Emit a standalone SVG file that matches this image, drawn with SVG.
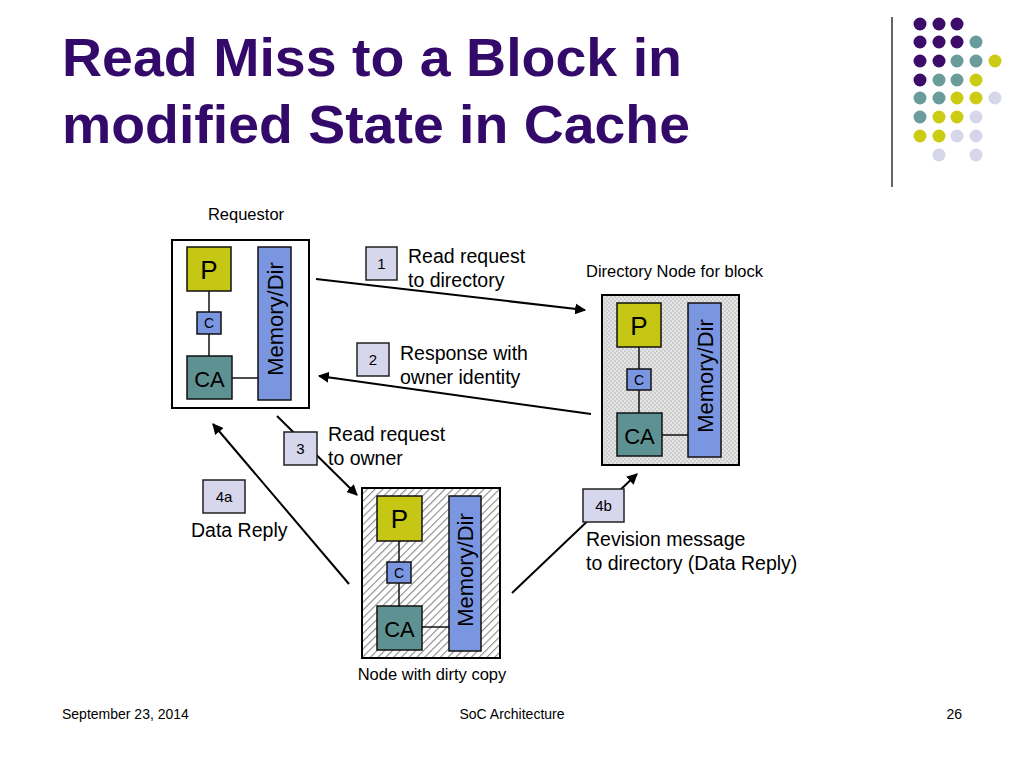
<svg xmlns="http://www.w3.org/2000/svg" width="1024" height="768" viewBox="0 0 1024 768">
<defs>
<style>
text{font-family:"Liberation Sans",Arial,sans-serif;fill:#000}
.title{font-size:53px;font-weight:bold;fill:#330a6a}
.lbl{font-size:19.5px}
.small{font-size:16.5px}
.foot{font-size:14px}
.num{font-size:15px;text-anchor:middle}
.frame{stroke:#000;stroke-width:2}
.p{fill:#c6c614;stroke:#111;stroke-width:1.5}
.c{fill:#7b96e0;stroke:#111;stroke-width:1.5}
.ca{fill:#5e9292;stroke:#111;stroke-width:1.5}
.mem{fill:#7b96e0;stroke:#111;stroke-width:1.5}
.link{stroke:#111;stroke-width:1.5}
.stepbox{fill:#d6d6ec;stroke:#222;stroke-width:1.5}
.arrow{stroke:#000;stroke-width:2;fill:none;marker-end:url(#ah)}
.big{font-size:26px;text-anchor:middle}
.ctext{font-size:14px;text-anchor:middle}
.memtext{font-size:22px;text-anchor:middle}
</style>
<marker id="ah" viewBox="0 0 10 10" refX="9" refY="5" markerWidth="5.5" markerHeight="5.5" orient="auto" markerUnits="strokeWidth">
<path d="M0,0 L10,5 L0,10 z" fill="#000"/>
</marker>
<pattern id="dots" width="4" height="4" patternUnits="userSpaceOnUse">
<rect width="4" height="4" fill="#cdcdcd"/>
<circle cx="1" cy="1" r="0.9" fill="#f2f2f2"/>
<circle cx="3" cy="3" r="0.9" fill="#f2f2f2"/>
</pattern>
<pattern id="hatch" width="5.5" height="5.5" patternUnits="userSpaceOnUse" patternTransform="rotate(45)">
<rect width="5.5" height="5.5" fill="#fff"/>
<line x1="0" y1="0" x2="0" y2="5.5" stroke="#8a8a8a" stroke-width="2.2"/>
</pattern>
</defs>
<rect width="1024" height="768" fill="#fff"/>

<g id="title">
<text class="title" x="62" y="76" textLength="620" lengthAdjust="spacingAndGlyphs">Read Miss to a Block in</text>
<text class="title" x="62" y="143" textLength="628" lengthAdjust="spacingAndGlyphs">modified State in Cache</text>
</g>

<g id="decoration">
<line x1="892" y1="17" x2="892" y2="187" stroke="#333" stroke-width="1.5"/>
<g fill="#3d0c6b">
<circle cx="920" cy="24" r="6.5"/><circle cx="939" cy="24" r="6.5"/><circle cx="957" cy="24" r="6.5"/>
<circle cx="920" cy="42" r="6.5"/><circle cx="939" cy="42" r="6.5"/><circle cx="957" cy="42" r="6.5"/>
<circle cx="920" cy="61" r="6.5"/><circle cx="939" cy="61" r="6.5"/>
<circle cx="920" cy="80" r="6.5"/>
</g>
<g fill="#6a9c9c">
<circle cx="976" cy="42" r="6.5"/>
<circle cx="957" cy="61" r="6.5"/><circle cx="976" cy="61" r="6.5"/>
<circle cx="939" cy="80" r="6.5"/><circle cx="957" cy="80" r="6.5"/>
<circle cx="920" cy="98" r="6.5"/><circle cx="939" cy="98" r="6.5"/>
<circle cx="920" cy="117" r="6.5"/>
</g>
<g fill="#cccc14">
<circle cx="995" cy="61" r="6.5"/>
<circle cx="976" cy="80" r="6.5"/>
<circle cx="957" cy="98" r="6.5"/><circle cx="976" cy="98" r="6.5"/>
<circle cx="939" cy="117" r="6.5"/><circle cx="957" cy="117" r="6.5"/>
<circle cx="920" cy="136" r="6.5"/><circle cx="939" cy="136" r="6.5"/>
</g>
<g fill="#d6d6ea">
<circle cx="995" cy="98" r="6.5"/>
<circle cx="976" cy="117" r="6.5"/>
<circle cx="957" cy="136" r="6.5"/><circle cx="976" cy="136" r="6.5"/>
<circle cx="939" cy="155" r="6.5"/><circle cx="976" cy="155" r="6.5"/>
</g>
</g>

<g id="requestor">
<text class="small" x="246" y="220" text-anchor="middle">Requestor</text>
<rect class="frame" x="172" y="240" width="137" height="168" fill="#fff"/>
<line class="link" x1="209" y1="291" x2="209" y2="356"/>
<line class="link" x1="232" y1="378" x2="258" y2="378"/>
<rect class="p" x="187" y="247" width="44" height="44"/>
<text class="big" x="209" y="279">P</text>
<rect class="c" x="197" y="312" width="24" height="22"/>
<text class="ctext" x="209" y="328">C</text>
<rect class="ca" x="187" y="356" width="45" height="43"/>
<text class="big" x="209.5" y="387" style="font-size:22px">CA</text>
<rect class="mem" x="258" y="247" width="33" height="153"/>
<text class="memtext" transform="translate(282.5,319) rotate(-90)">Memory/Dir</text>
</g>

<g id="directory">
<text class="small" x="586" y="277">Directory Node for block</text>
<rect class="frame" x="602" y="295" width="137" height="170" fill="url(#dots)"/>
<line class="link" x1="639" y1="347" x2="639" y2="413"/>
<line class="link" x1="662" y1="435" x2="688" y2="435"/>
<rect class="p" x="617" y="303" width="44" height="44"/>
<text class="big" x="639" y="335">P</text>
<rect class="c" x="627" y="369" width="24" height="21"/>
<text class="ctext" x="639" y="384.5">C</text>
<rect class="ca" x="617" y="413" width="45" height="43"/>
<text class="big" x="639.5" y="444" style="font-size:22px">CA</text>
<rect class="mem" x="688" y="303" width="33" height="154"/>
<text class="memtext" transform="translate(712.5,376) rotate(-90)">Memory/Dir</text>
</g>

<g id="dirty">
<rect class="frame" x="362" y="488" width="138" height="170" fill="url(#hatch)"/>
<line class="link" x1="399" y1="541" x2="399" y2="606"/>
<line class="link" x1="422" y1="627" x2="449" y2="627"/>
<rect class="p" x="377" y="496" width="45" height="45"/>
<text class="big" x="399.5" y="528">P</text>
<rect class="c" x="387" y="562" width="24" height="21"/>
<text class="ctext" x="399" y="577.5">C</text>
<rect class="ca" x="377" y="606" width="45" height="44"/>
<text class="big" x="399.5" y="637" style="font-size:22px">CA</text>
<rect class="mem" x="449" y="496" width="32" height="155"/>
<text class="memtext" transform="translate(473,570) rotate(-90)">Memory/Dir</text>
<text class="small" x="432" y="680" text-anchor="middle">Node with dirty copy</text>
</g>

<g id="connectors">
<line class="arrow" x1="316" y1="279" x2="585" y2="310"/>
<line class="arrow" x1="591" y1="414" x2="319" y2="376"/>
<line class="arrow" x1="277" y1="416" x2="357" y2="495"/>
<line class="arrow" x1="349" y1="584" x2="213" y2="424"/>
<line class="arrow" x1="512" y1="593" x2="637" y2="474"/>
</g>

<g id="step1">
<rect class="stepbox" x="366" y="247" width="31" height="33"/>
<text class="num" x="381.5" y="269">1</text>
<text class="lbl" x="408" y="263">Read request</text>
<text class="lbl" x="408" y="287">to directory</text>
</g>
<g id="step2">
<rect class="stepbox" x="357" y="343" width="32" height="33"/>
<text class="num" x="373" y="365">2</text>
<text class="lbl" x="400" y="360">Response with</text>
<text class="lbl" x="400" y="384">owner identity</text>
</g>
<g id="step3">
<rect class="stepbox" x="284" y="432" width="33" height="33"/>
<text class="num" x="300.5" y="454">3</text>
<text class="lbl" x="328" y="441">Read request</text>
<text class="lbl" x="328" y="465">to owner</text>
</g>
<g id="step4a">
<rect class="stepbox" x="203" y="480" width="42" height="33"/>
<text class="num" x="224" y="502">4a</text>
<text class="lbl" x="191" y="537">Data Reply</text>
</g>
<g id="step4b">
<rect class="stepbox" x="583" y="489" width="41" height="33"/>
<text class="num" x="603.5" y="511">4b</text>
<text class="lbl" x="586" y="546">Revision message</text>
<text class="lbl" x="586" y="570">to directory (Data Reply)</text>
</g>

<g id="footer">
<text class="foot" x="62" y="719">September 23, 2014</text>
<text class="foot" x="512" y="719" text-anchor="middle">SoC Architecture</text>
<text class="foot" x="962" y="719" text-anchor="end">26</text>
</g>
</svg>
